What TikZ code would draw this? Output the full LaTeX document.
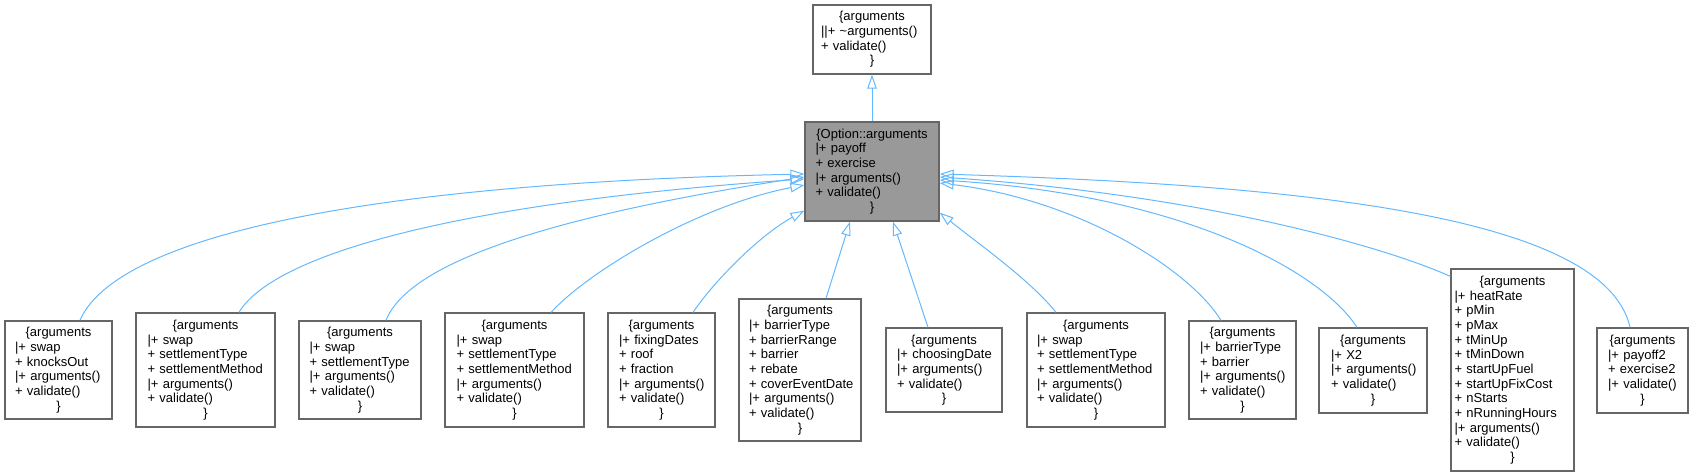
\documentclass[tikz,border=0pt]{standalone}
\usepackage{fontspec}
\setmainfont{Liberation Sans}
\usetikzlibrary{arrows.meta,calc}
\definecolor{boxborder}{HTML}{666666}
\definecolor{mainfill}{HTML}{999999}
\definecolor{edgeblue}{HTML}{63B8FF}
\newcommand\clsctr[1]{\makebox[\hsize][c]{#1}}
\hyphenpenalty=10000
\exhyphenpenalty=10000
\begin{document}
\begin{tikzpicture}[x=1pt,y=-1pt,
  clsbox/.style={draw=boxborder, line width=1.3pt, fill=white, align=left,
    inner ysep=0pt, font=\fontsize{13}{14.67}\selectfont, text=black},
  inherit/.style={draw=edgeblue, line width=1pt,
    -{Triangle[open,length=14pt,width=9.5pt]}}]
\useasboundingbox (0,0) rectangle (1693,476);

% parent classes
\node[clsbox, minimum width=118pt, minimum height=69pt, inner xsep=8pt, text width=102pt] (top) at (872,39.5)
  {\clsctr{\{arguments}\\||+~\textasciitilde arguments()\\+~validate()\\\clsctr{\}}};
\node[clsbox, fill=mainfill, minimum width=134pt, minimum height=99pt, inner xsep=10.5pt, text width=113pt] (main) at (872,171.5)
  {\clsctr{\{Option::arguments}\\|+~payoff\\+~exercise\\|+~arguments()\\+~validate()\\\clsctr{\}}};

% derived classes
\node[clsbox, minimum width=107pt, minimum height=98pt, inner xsep=10pt, text width=87pt] (b1) at (58.5,370)
  {\clsctr{\{arguments}\\|+~swap\\+~knocksOut\\|+~arguments()\\+~validate()\\\clsctr{\}}};
\node[clsbox, minimum width=139pt, minimum height=114pt, inner xsep=11.5pt, text width=116pt] (b2) at (205.5,370)
  {\clsctr{\{arguments}\\|+~swap\\+~settlementType\\+~settlementMethod\\|+~arguments()\\+~validate()\\\clsctr{\}}};
\node[clsbox, minimum width=122pt, minimum height=98pt, inner xsep=10.5pt, text width=101pt] (b3) at (360,370)
  {\clsctr{\{arguments}\\|+~swap\\+~settlementType\\|+~arguments()\\+~validate()\\\clsctr{\}}};
\node[clsbox, minimum width=139pt, minimum height=114pt, inner xsep=11.5pt, text width=116pt] (b4) at (514.5,370)
  {\clsctr{\{arguments}\\|+~swap\\+~settlementType\\+~settlementMethod\\|+~arguments()\\+~validate()\\\clsctr{\}}};
\node[clsbox, minimum width=107pt, minimum height=114pt, inner xsep=11pt, text width=85pt] (b5) at (661.5,370)
  {\clsctr{\{arguments}\\|+~fixingDates\\+~roof\\+~fraction\\|+~arguments()\\+~validate()\\\clsctr{\}}};
\node[clsbox, minimum width=122pt, minimum height=142pt, inner xsep=10pt, text width=102pt] (b6) at (800,370)
  {\clsctr{\{arguments}\\|+~barrierType\\+~barrierRange\\+~barrier\\+~rebate\\+~coverEventDate\\|+~arguments()\\+~validate()\\\clsctr{\}}};
\node[clsbox, minimum width=116pt, minimum height=84pt, inner xsep=11pt, text width=94pt] (b7) at (944,370)
  {\clsctr{\{arguments}\\|+~choosingDate\\|+~arguments()\\+~validate()\\\clsctr{\}}};
\node[clsbox, minimum width=138pt, minimum height=114pt, inner xsep=10pt, text width=118pt] (b8) at (1096,370)
  {\clsctr{\{arguments}\\|+~swap\\+~settlementType\\+~settlementMethod\\|+~arguments()\\+~validate()\\\clsctr{\}}};
\node[clsbox, minimum width=107pt, minimum height=98pt, inner xsep=11pt, text width=85pt] (b9) at (1242.5,370)
  {\clsctr{\{arguments}\\|+~barrierType\\+~barrier\\|+~arguments()\\+~validate()\\\clsctr{\}}};
\node[clsbox, minimum width=108pt, minimum height=85pt, inner xsep=12pt, text width=84pt] (b10) at (1373,370.5)
  {\clsctr{\{arguments}\\|+~X2\\|+~arguments()\\+~validate()\\\clsctr{\}}};
\node[clsbox, minimum width=123pt, minimum height=202pt, inner xsep=3.5pt, text width=116pt] (b11) at (1512.5,370)
  {\clsctr{\{arguments}\\|+~heatRate\\+~pMin\\+~pMax\\+~tMinUp\\+~tMinDown\\+~startUpFuel\\+~startUpFixCost\\+~nStarts\\+~nRunningHours\\|+~arguments()\\+~validate()\\\clsctr{\}}};
\node[clsbox, minimum width=91pt, minimum height=85pt, inner xsep=11pt, text width=69pt] (b12) at (1642.5,370.5)
  {\clsctr{\{arguments}\\|+~payoff2\\+~exercise2\\|+~validate()\\\clsctr{\}}};

% inheritance edges
\draw[inherit] (main.north) -- (top.south);
\draw[inherit] ($(b1.north)+(21.5,0)$) .. controls (110,250) and (300,185) .. ($(main.west)+(0,2.5)$);
\draw[inherit] ($(b2.north)+(33.5,0)$) .. controls (270,260) and (430,205) .. ($(main.west)+(0,7.5)$);
\draw[inherit] ($(b3.north)+(26,0)$) .. controls (410,260) and (560,215) .. ($(main.west)+(0,5.5)$);
\draw[inherit] ($(b4.north)+(36.5,0)$) .. controls (590,270) and (700,205) .. ($(main.west)+(0,13.5)$);
\draw[inherit] ($(b5.north)+(31.5,0)$) .. controls (715,280) and (760,235) .. ($(main.south west)+(0,-11)$);
\draw[inherit] ($(b6.north)+(26,0)$) -- ($(main.south)+(-22,0)$);
\draw[inherit] ($(b7.north)+(-16,0)$) -- ($(main.south)+(21,0)$);
\draw[inherit] ($(b8.north)+(-40,0)$) .. controls (1030,280) and (980,245) .. ($(main.south east)+(0,-9)$);
\draw[inherit] ($(b9.north)+(-21.5,0)$) .. controls (1190,270) and (1080,200) .. ($(main.east)+(0,11.5)$);
\draw[inherit] ($(b10.north)+(-16,0)$) .. controls (1320,270) and (1180,195) .. ($(main.east)+(0,8.5)$);
\draw[inherit] ($(b11.north west)+(0,8)$) .. controls (1380,245) and (1200,195) .. ($(main.east)+(0,5.5)$);
\draw[inherit] ($(b12.north)+(-12.5,0)$) .. controls (1605,215) and (1300,185) .. ($(main.east)+(0,2.5)$);
\end{tikzpicture}
\end{document}
